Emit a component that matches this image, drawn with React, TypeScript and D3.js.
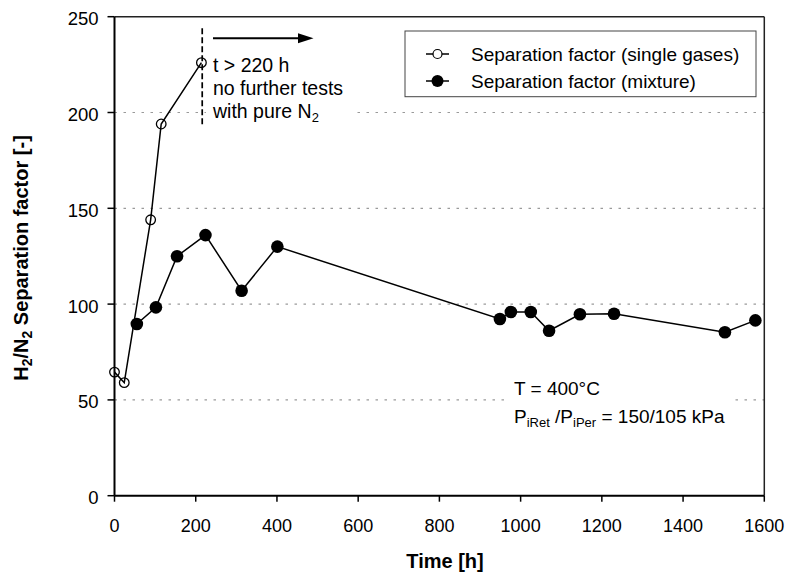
import React from "react";
import * as d3 from "d3";

const singleTime = [0, 24, 89, 115, 214];
const singleValue = [64.5, 59, 144, 194, 226];
const mixTime = [55, 102, 154, 224, 313, 401, 949, 976, 1025, 1070, 1146, 1230, 1503, 1578];
const mixValue = [89.6, 98.3, 125, 136, 107, 130, 92.2, 95.9, 95.9, 86.1, 94.7, 95.0, 85.3, 91.5];
const xTicks = [0, 200, 400, 600, 800, 1000, 1200, 1400, 1600];
const yTicks = [0, 50, 100, 150, 200, 250];
const legendLabels = ["Separation factor (single gases)", "Separation factor (mixture)"];
const cutoffTime = 216;

const W = 788, H = 577;
const FONT = "'Liberation Sans', Arial, Helvetica, sans-serif";

export default function App() {
  const x = d3.scaleLinear().domain([0, 1600]).range([114.5, 764.3]);
  const y = d3.scaleLinear().domain([0, 250]).range([495.7, 16.7]);
  const line = d3.line<[number, number]>().x(d => x(d[0])).y(d => y(d[1]));
  const singlePts: [number, number][] = singleTime.map((t, i) => [t, singleValue[i]]);
  const mixPts: [number, number][] = mixTime.map((t, i) => [t, mixValue[i]]);
  const [x0, x1] = x.range();
  const [y0, y1] = y.range();

  return (
    <svg width={W} height={H} style={{ position: "absolute", left: 0, top: 0, background: "#fff" }} fontFamily={FONT}>
      {/* grid */}
      {yTicks.filter(v => v > 0 && v < 250).map(v => (
        <line key={v} x1={x0} x2={x1} y1={y(v)} y2={y(v)} stroke="#9a9a9a" strokeWidth={1.2} strokeDasharray="2.5,6.5" />
      ))}
      {/* plot frame top/right */}
      <line x1={x0} x2={x1} y1={y1} y2={y1} stroke="#222" strokeWidth={1.5} />
      <line x1={x1} x2={x1} y1={y1} y2={y0} stroke="#222" strokeWidth={1.5} />

      {/* white annotation boxes */}
      <rect x={206} y={55} width={146} height={70} fill="#fff" />
      <rect x={506} y={373} width={228} height={60} fill="#fff" />

      {/* cutoff dashed line */}
      <line x1={x(cutoffTime)} x2={x(cutoffTime)} y1={y(244)} y2={y(192.5)} stroke="#000" strokeWidth={1.7} strokeDasharray="6,3" />
      {/* arrow */}
      <line x1={213} x2={300} y1={38.3} y2={38.3} stroke="#000" strokeWidth={2} />
      <path d="M298,33.3 L313.5,38.3 L298,43.3 Z" fill="#000" />

      {/* annotation text */}
      <text x={213} y={72} fontSize={19.5} fill="#000">t &gt; 220 h</text>
      <text x={213} y={95} fontSize={19.5} fill="#000">no further tests</text>
      <text x={213} y={118} fontSize={19.5} fill="#000">with pure N<tspan fontSize={13} dy={4}>2</tspan></text>

      <text x={514} y={395} fontSize={19} fill="#000">T = 400°C</text>
      <text x={514} y={423} fontSize={19} fill="#000">
        P<tspan fontSize={13} dy={4}>iRet</tspan><tspan dy={-4}> /P</tspan><tspan fontSize={13} dy={4}>iPer</tspan><tspan dy={-4}> = 150/105 kPa</tspan>
      </text>

      {/* series lines */}
      <path d={line(singlePts) || ""} fill="none" stroke="#000" strokeWidth={1.5} />
      <path d={line(mixPts) || ""} fill="none" stroke="#000" strokeWidth={1.5} />
      {mixPts.map((p, i) => (
        <circle key={"m" + i} cx={x(p[0])} cy={y(p[1])} r={6.3} fill="#000" />
      ))}
      {singlePts.map((p, i) => (
        <circle key={"s" + i} cx={x(p[0])} cy={y(p[1])} r={4.8} fill="none" stroke="#000" strokeWidth={1.3} />
      ))}

      {/* axes */}
      <line x1={x0} x2={x0} y1={y1} y2={y0} stroke="#000" strokeWidth={2} />
      <line x1={x0} x2={x1} y1={y0} y2={y0} stroke="#000" strokeWidth={2} />
      {yTicks.map(v => (
        <g key={"yt" + v}>
          <line x1={x0 - 7} x2={x0} y1={y(v)} y2={y(v)} stroke="#000" strokeWidth={1.5} />
          <text x={98.5} y={y(v) + 8.5} fontSize={18.5} textAnchor="end" fill="#000">{v}</text>
        </g>
      ))}
      {xTicks.map(v => (
        <g key={"xt" + v}>
          <line x1={x(v)} x2={x(v)} y1={y0} y2={y0 + 6} stroke="#000" strokeWidth={1.5} />
          <text x={x(v)} y={531.5} fontSize={18} textAnchor="middle" fill="#000">{v}</text>
        </g>
      ))}

      {/* axis titles */}
      <text x={445} y={568} fontSize={20} fontWeight="bold" textAnchor="middle" fill="#000">Time [h]</text>
      <text transform="translate(28,258) rotate(-90)" fontSize={20} fontWeight="bold" textAnchor="middle" fill="#000">
        H<tspan fontSize={14} dy={4}>2</tspan><tspan dy={-4}>/N</tspan><tspan fontSize={14} dy={4}>2</tspan><tspan dy={-4}> Separation factor [-]</tspan>
      </text>

      {/* legend */}
      <rect x={405} y={31} width={351} height={65.7} fill="#fff" stroke="#444" strokeWidth={1} />
      <line x1={426} x2={449} y1={54} y2={54} stroke="#000" strokeWidth={1.5} />
      <circle cx={437.5} cy={54} r={4.5} fill="#fff" stroke="#000" strokeWidth={1.2} />
      <text x={471} y={60.5} fontSize={19} fill="#000">{legendLabels[0]}</text>
      <line x1={426} x2={449} y1={81} y2={81} stroke="#000" strokeWidth={1.5} />
      <circle cx={437.5} cy={81} r={6} fill="#000" />
      <text x={471} y={88} fontSize={19} fill="#000">{legendLabels[1]}</text>
    </svg>
  );
}
